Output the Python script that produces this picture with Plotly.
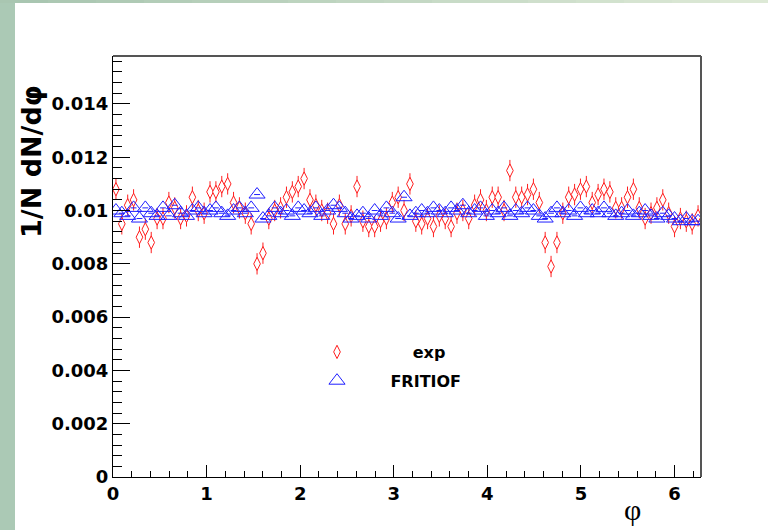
import numpy as np
import plotly.graph_objects as go

# ---------------- data ----------------
n_bins = 100
phi_max = 2 * np.pi
bin_width = phi_max / n_bins
phi = [(i + 0.5) * bin_width for i in range(n_bins)]

exp_vals = [
    0.0108, 0.0095, 0.0102, 0.0104, 0.0090, 0.0093, 0.0088, 0.0097, 0.0097, 0.0103,
    0.0101, 0.0097, 0.0098, 0.0105, 0.0100, 0.0099, 0.0107, 0.0107, 0.0109, 0.0110,
    0.0103, 0.0101, 0.0099, 0.0095, 0.0080, 0.0084, 0.0097, 0.0100, 0.0101, 0.0105,
    0.0107, 0.0109, 0.0112, 0.0104, 0.0102, 0.0100, 0.0099, 0.0095, 0.0102, 0.0095,
    0.0098, 0.0109, 0.0096, 0.0094, 0.0094, 0.0096, 0.0097, 0.0103, 0.0105, 0.0100,
    0.0110, 0.0096, 0.0095, 0.0097, 0.0094, 0.0098, 0.0097, 0.0094, 0.0099, 0.0100,
    0.0097, 0.0102, 0.0104, 0.0100, 0.0105, 0.0105, 0.0100, 0.0115, 0.0105, 0.0105,
    0.0106, 0.0108, 0.0103, 0.0088, 0.0079, 0.0088, 0.0099, 0.0105, 0.0106, 0.0108,
    0.0109, 0.0103, 0.0106, 0.0108, 0.0107, 0.0101, 0.0101, 0.0105, 0.0108, 0.0101,
    0.0097, 0.0099, 0.0101, 0.0104, 0.0099, 0.0094, 0.0097, 0.0096, 0.0095, 0.0098,
]
exp_err = [0.0004] * n_bins

fritiof_vals = [
    0.0100, 0.0099, 0.0098, 0.0101, 0.0097, 0.0101, 0.0099, 0.0098, 0.0101, 0.0098,
    0.0102, 0.0099, 0.0098, 0.0100, 0.0101, 0.0099, 0.0100, 0.0101, 0.0099, 0.0098,
    0.0100, 0.0101, 0.0099, 0.0101, 0.0106, 0.0097, 0.0098, 0.0101, 0.0099, 0.0100,
    0.0098, 0.0101, 0.0100, 0.0099, 0.0101, 0.0098, 0.0100, 0.0102, 0.0101, 0.0099,
    0.0097, 0.0098, 0.0099, 0.0097, 0.0100, 0.0098, 0.0101, 0.0099, 0.0097, 0.0105,
    0.0098, 0.0099, 0.0100, 0.0099, 0.0101, 0.0100, 0.0099, 0.0101, 0.0100, 0.0102,
    0.0099, 0.0100, 0.0101, 0.0098, 0.0100, 0.0099, 0.0101, 0.0098, 0.0100, 0.0099,
    0.0101, 0.0100, 0.0098, 0.0097, 0.0099, 0.0101, 0.0099, 0.0100, 0.0098, 0.0101,
    0.0099, 0.0100, 0.0099, 0.0101, 0.0099, 0.0098, 0.0099, 0.0100, 0.0098, 0.0099,
    0.0100, 0.0098, 0.0097, 0.0099, 0.0098, 0.0097, 0.0096, 0.0097, 0.0096, 0.0096,
]

ytick_vals = [0, 0.002, 0.004, 0.006, 0.008, 0.010, 0.012, 0.014]
ytick_text = ["0", "0.002", "0.004", "0.006", "0.008", "0.01", "0.012", "0.014"]
xtick_vals = [0, 1, 2, 3, 4, 5, 6]
xtick_text = ["0", "1", "2", "3", "4", "5", "6"]

series_names = ["exp", "FRITIOF"]

# ---------------- layout geometry ----------------
W, H = 768, 530
L, R, T, B = 113, 67, 56, 53
pw, ph = W - L - R, H - T - B

def px2paper_x(px):
    return (px - L) / pw

def px2paper_y(py):
    return (H - B - py) / ph

NB = "\u00a0"
fig = go.Figure()

fig.add_trace(go.Scatter(
    x=phi, y=exp_vals, mode="markers", name=NB * 10 + series_names[0],
    legendgroup="g1",
    marker=dict(symbol="diamond-tall", size=9.5, color="white",
                line=dict(color="rgb(255,30,30)", width=1)),
    error_y=dict(type="data", array=exp_err, color="rgb(255,30,30)",
                 thickness=1, width=0),
))
fig.add_trace(go.Scatter(
    x=phi, y=fritiof_vals, mode="markers", name=NB * 6 + series_names[1],
    legendgroup="g2",
    marker=dict(symbol="triangle-up-open", size=14,
                color="rgb(30,30,255)", line=dict(color="rgb(30,30,255)", width=1)),
    error_x=dict(type="constant", value=bin_width / 2, color="rgb(30,30,255)",
                 thickness=1, width=0),
))

tickfont = dict(family="DejaVu Sans", size=18, color="black", weight="bold")

fig.update_layout(
    width=W, height=H,
    margin=dict(l=L, r=R, t=T, b=B, pad=0),
    paper_bgcolor="white", plot_bgcolor="white",
    showlegend=True,
    legend=dict(x=px2paper_x(317), y=px2paper_y(335), xanchor="left", yanchor="top",
                bgcolor="rgba(0,0,0,0)", borderwidth=0,
                font=dict(family="DejaVu Sans", size=16, color="black", weight="bold"),
                tracegroupgap=5),
    xaxis=dict(range=[0, phi_max], showgrid=False, zeroline=False,
               showline=True, linecolor="black", linewidth=1,
               ticks="inside", ticklen=12, tickcolor="black", tickwidth=1,
               tickvals=xtick_vals, ticktext=xtick_text, tickfont=tickfont,
               minor=dict(ticks="inside", ticklen=6, dtick=0.2, tickcolor="black",
                          showgrid=False)),
    yaxis=dict(range=[0, 0.0158], showgrid=False, zeroline=False,
               showline=True, linecolor="black", linewidth=1,
               ticks="inside", ticklen=17, tickcolor="black", tickwidth=1,
               tickvals=ytick_vals, ticktext=ytick_text, tickfont=tickfont,
               minor=dict(ticks="inside", ticklen=9, dtick=0.0004, tickcolor="black",
                          showgrid=False)),
)

# axis titles (ROOT style: aligned to axis end)
fig.add_annotation(text="1/N dN/dφ", xref="paper", yref="paper",
                   x=px2paper_x(31), y=px2paper_y(162), textangle=-90,
                   showarrow=False, xanchor="center", yanchor="middle",
                   font=dict(family="DejaVu Sans", size=27, color="black", weight="bold"))
fig.add_annotation(text="φ", xref="paper", yref="paper",
                   x=px2paper_x(632), y=px2paper_y(509),
                   showarrow=False, xanchor="center", yanchor="middle",
                   font=dict(family="Liberation Serif", size=30, color="black"))

# frame top/right edges
shapes = [
    dict(type="line", xref="paper", yref="paper", x0=0, x1=1, y0=1, y1=1,
         line=dict(color="#555555", width=2)),
    dict(type="line", xref="paper", yref="paper", x0=1, x1=1, y0=0, y1=1,
         line=dict(color="#555555", width=2)),
    # slide decoration: left strip
    dict(type="rect", xref="paper", yref="paper", layer="below",
         x0=px2paper_x(0), x1=px2paper_x(15), y0=px2paper_y(H), y1=px2paper_y(0),
         fillcolor="#abc9b5", line=dict(width=0)),
]
# slide decoration: top strip gradient
c0 = np.array([0xa9, 0xc6, 0xb1])
c1 = np.array([0xdd, 0xe9, 0xd6])
nseg = 16
for k in range(nseg):
    t = k / (nseg - 1)
    c = (c0 * (1 - t) + c1 * t).astype(int)
    shapes.append(dict(type="rect", xref="paper", yref="paper", layer="below",
                       x0=px2paper_x(k * W / nseg), x1=px2paper_x((k + 1) * W / nseg + 1),
                       y0=px2paper_y(3), y1=px2paper_y(0),
                       fillcolor="rgb(%d,%d,%d)" % tuple(c), line=dict(width=0)))
fig.update_layout(shapes=shapes)

fig.write_html("out.html")
